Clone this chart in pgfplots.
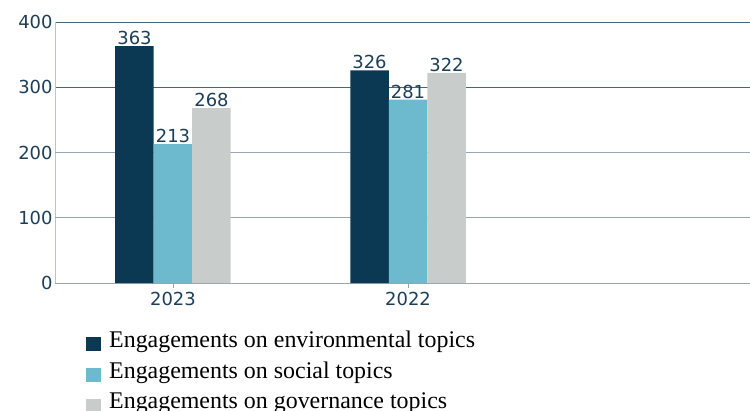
\documentclass[border=0pt]{standalone}
\usepackage{fontspec}
\setmainfont{Liberation Serif}
\newfontfamily\dejavu{DejaVu Sans}
\usepackage{pgfplots}
\pgfplotsset{compat=1.18}
\begin{document}
\begin{tikzpicture}
\definecolor{envNavy}{RGB}{11,57,84}
\definecolor{socBlue}{RGB}{109,185,206}
\definecolor{govGray}{RGB}{200,205,204}
\definecolor{labNavy}{RGB}{28,62,88}
\definecolor{gridDark}{RGB}{70,102,126}
\definecolor{gridLight}{RGB}{150,166,178}
\definecolor{axisLight}{RGB}{185,198,208}
\begin{axis}[
    scale only axis,
    width=695bp, height=261bp,
    ybar, bar width=38.5bp,
    xmin=-0.502, xmax=2.455,
    ymin=0, ymax=400,
    xtick={0,1}, xticklabels={2023,2022},
    ytick={300,400},
    extra y ticks={0,100,200},
    extra y tick style={grid style={color=gridLight, line width=0.9bp}},
    ymajorgrids,
    grid style={color=gridDark, line width=0.9bp},
    axis x line*=bottom, axis y line*=left,
    x axis line style={color=gridLight, line width=0.9bp, -},
    y axis line style={color=axisLight, line width=0.9bp, -},
    tick style={color=gridLight, line width=0.8bp},
    xtick style={/pgfplots/major tick length=5bp},
    ytick style={draw=none},
    xtick pos=bottom, xtick align=outside,
    ticklabel style={font=\dejavu\fontsize{18}{21}\selectfont, text=labNavy},
    /pgf/number format/assume math mode=true,
    xticklabel style={yshift=-1bp},
    yticklabel style={xshift=1bp},
    nodes near coords,
    nodes near coords style={font=\dejavu\fontsize{18}{21}\selectfont, text=labNavy, inner sep=1bp},
    legend style={
        at={(axis description cs:0.0446,-0.175)}, anchor=north west,
        draw=none, fill=none, inner sep=0pt,
        font=\fontsize{24}{28}\selectfont,
        row sep=9bp,
        legend cell align=left,
        /tikz/every odd column/.append style={column sep=6bp},
    },
    legend image code/.code={\fill[#1] (0bp,-11bp) rectangle (15bp,3bp);},
]
\addplot[bar shift=-38.5bp, fill=envNavy, draw=none] coordinates {(0,363) (1,326)};
\addplot[bar shift=0bp, fill=socBlue, draw=none] coordinates {(0,213) (1,281)};
\addplot[bar shift=38.5bp, fill=govGray, draw=none] coordinates {(0,268) (1,322)};
\legend{Engagements on environmental topics,Engagements on social topics,Engagements on governance topics}
\end{axis}
\pgfresetboundingbox
\path (-55bp,-128bp) rectangle (695bp,283bp);
\end{tikzpicture}
\end{document}
